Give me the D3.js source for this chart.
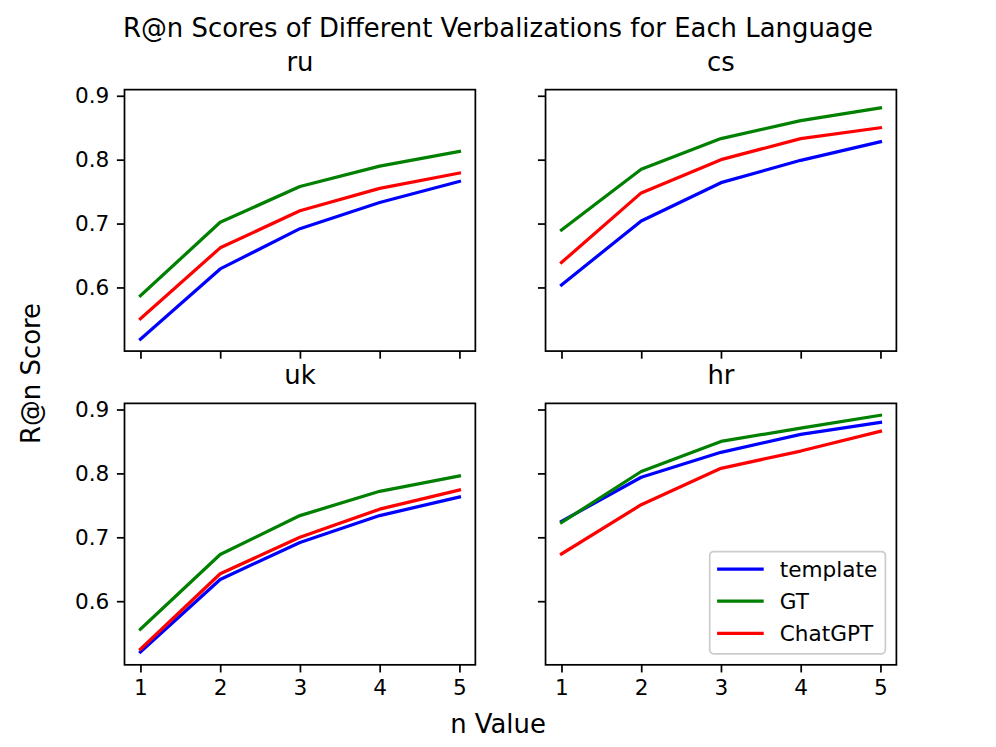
<!DOCTYPE html>
<html>
<head>
<meta charset="UTF-8">
<title>R@n Scores</title>
<script src="https://cdn.jsdelivr.net/npm/d3@7"></script>
<style>
  body { margin: 0; background: #fff; }
  svg text { font-family: "DejaVu Sans", sans-serif; fill: #000; }
  .tick line { stroke: #000; stroke-width: 1.73px; }
  .tick text { font-size: 21.6px; }
  .frame { fill: none; stroke: #000; stroke-width: 1.73px; }
  .series { fill: none; stroke-width: 3.24px; stroke-linejoin: round; stroke-linecap: square; }
</style>
</head>
<body>
<div id="chart"></div>
<script>
// data
var nValues = [1, 2, 3, 4, 5];
var languages = ["ru", "cs", "uk", "hr"];
var methods = ["template", "GT", "ChatGPT"];
var methodColors = ["blue", "green", "red"];
var yTicks = [0.6, 0.7, 0.8, 0.9];

var ruTemplate = [0.519, 0.629, 0.692, 0.733, 0.766];
var ruGT       = [0.587, 0.702, 0.758, 0.790, 0.813];
var ruChatGPT  = [0.551, 0.662, 0.720, 0.755, 0.779];

var csTemplate = [0.604, 0.704, 0.764, 0.799, 0.828];
var csGT       = [0.690, 0.785, 0.833, 0.861, 0.881];
var csChatGPT  = [0.639, 0.748, 0.800, 0.833, 0.850];

var ukTemplate = [0.5205, 0.634, 0.692, 0.734, 0.763];
var ukGT       = [0.556, 0.673, 0.734, 0.772, 0.796];
var ukChatGPT  = [0.525, 0.643, 0.700, 0.744, 0.774];

var hrTemplate = [0.725, 0.794, 0.833, 0.861, 0.880];
var hrGT       = [0.723, 0.803, 0.850, 0.871, 0.891];
var hrChatGPT  = [0.674, 0.751, 0.808, 0.835, 0.866];

var scores = {
  ru: [ruTemplate, ruGT, ruChatGPT],
  cs: [csTemplate, csGT, csChatGPT],
  uk: [ukTemplate, ukGT, ukChatGPT],
  hr: [hrTemplate, hrGT, hrChatGPT]
};

// layout (matplotlib-like subplots 2x2)
var W = 996, H = 747;
var padL = 0.125 * W, padR = 0.9 * W, padT = 0.12 * H, padB = 0.89 * H;
var aw = (padR - padL) / 2.2, ah = (padB - padT) / 2.2;
var tickLen = 7.6;

var svg = d3.select("#chart").append("svg")
  .attr("width", W).attr("height", H);

// shared scales
var allVals = [];
languages.forEach(function(l){ scores[l].forEach(function(s){ allVals = allVals.concat(s); }); });
var ymin = d3.min(allVals), ymax = d3.max(allVals);
var ym = (ymax - ymin) * 0.05;
var xm = (d3.max(nValues) - d3.min(nValues)) * 0.05;

var xScale = d3.scaleLinear().domain([d3.min(nValues) - xm, d3.max(nValues) + xm]).range([0, aw]);
var yScale = d3.scaleLinear().domain([ymin - ym, ymax + ym]).range([ah, 0]);

var line = d3.line()
  .x(function(d, i){ return xScale(nValues[i]); })
  .y(function(d){ return yScale(d); });

languages.forEach(function(lang, k){
  var col = k % 2, row = Math.floor(k / 2);
  var ox = padL + col * aw * 1.2, oy = padT + row * ah * 1.2;
  var g = svg.append("g").attr("transform", "translate(" + ox + "," + oy + ")");

  var xAxis = d3.axisBottom(xScale).tickValues(nValues).tickSize(tickLen).tickSizeOuter(0).tickPadding(7.6)
    .tickFormat(row === 0 ? "" : d3.format("d"));
  var yAxis = d3.axisLeft(yScale).tickValues(yTicks).tickSize(tickLen).tickSizeOuter(0).tickPadding(7.6)
    .tickFormat(col === 1 ? "" : d3.format(".1f"));

  g.append("g").attr("transform", "translate(0," + ah + ")").call(xAxis)
    .call(function(a){ a.select(".domain").remove(); });
  g.append("g").call(yAxis)
    .call(function(a){ a.select(".domain").remove(); });

  scores[lang].forEach(function(s, m){
    g.append("path").attr("class", "series")
      .attr("stroke", methodColors[m])
      .attr("d", line(s));
  });

  g.append("rect").attr("class", "frame").attr("width", aw).attr("height", ah);

  g.append("text").attr("x", aw / 2).attr("y", -19)
    .attr("text-anchor", "middle").style("font-size", "25.9px").text(lang);

  // legend in last panel
  if (lang === "hr") {
    var lg = g.append("g").attr("transform", "translate(" + (aw - 11 - 175.7) + "," + (ah - 11 - 102.3) + ")");
    lg.append("rect").attr("width", 175.7).attr("height", 102.3).attr("rx", 4)
      .attr("fill", "rgba(255,255,255,0.8)").attr("stroke", "#cccccc").attr("stroke-width", 1.73);
    methods.forEach(function(name, m){
      var ly = 17.6 + m * 32.1;
      lg.append("line").attr("x1", 7.4).attr("x2", 54).attr("y1", ly).attr("y2", ly)
        .attr("stroke", methodColors[m]).attr("stroke-width", 3.24);
      lg.append("text").attr("x", 70).attr("y", ly + 7.8)
        .style("font-size", "21.6px").text(name);
    });
  }
});

// figure labels
svg.append("text").attr("x", W / 2).attr("y", 36.5).attr("text-anchor", "middle")
  .style("font-size", "25.9px").text("R@n Scores of Different Verbalizations for Each Language");
svg.append("text").attr("x", W / 2).attr("y", 733).attr("text-anchor", "middle")
  .style("font-size", "25.9px").text("n Value");
svg.append("text").attr("transform", "translate(40," + (H / 2) + ") rotate(-90)")
  .attr("text-anchor", "middle").style("font-size", "25.9px").text("R@n Score");
</script>
</body>
</html>
